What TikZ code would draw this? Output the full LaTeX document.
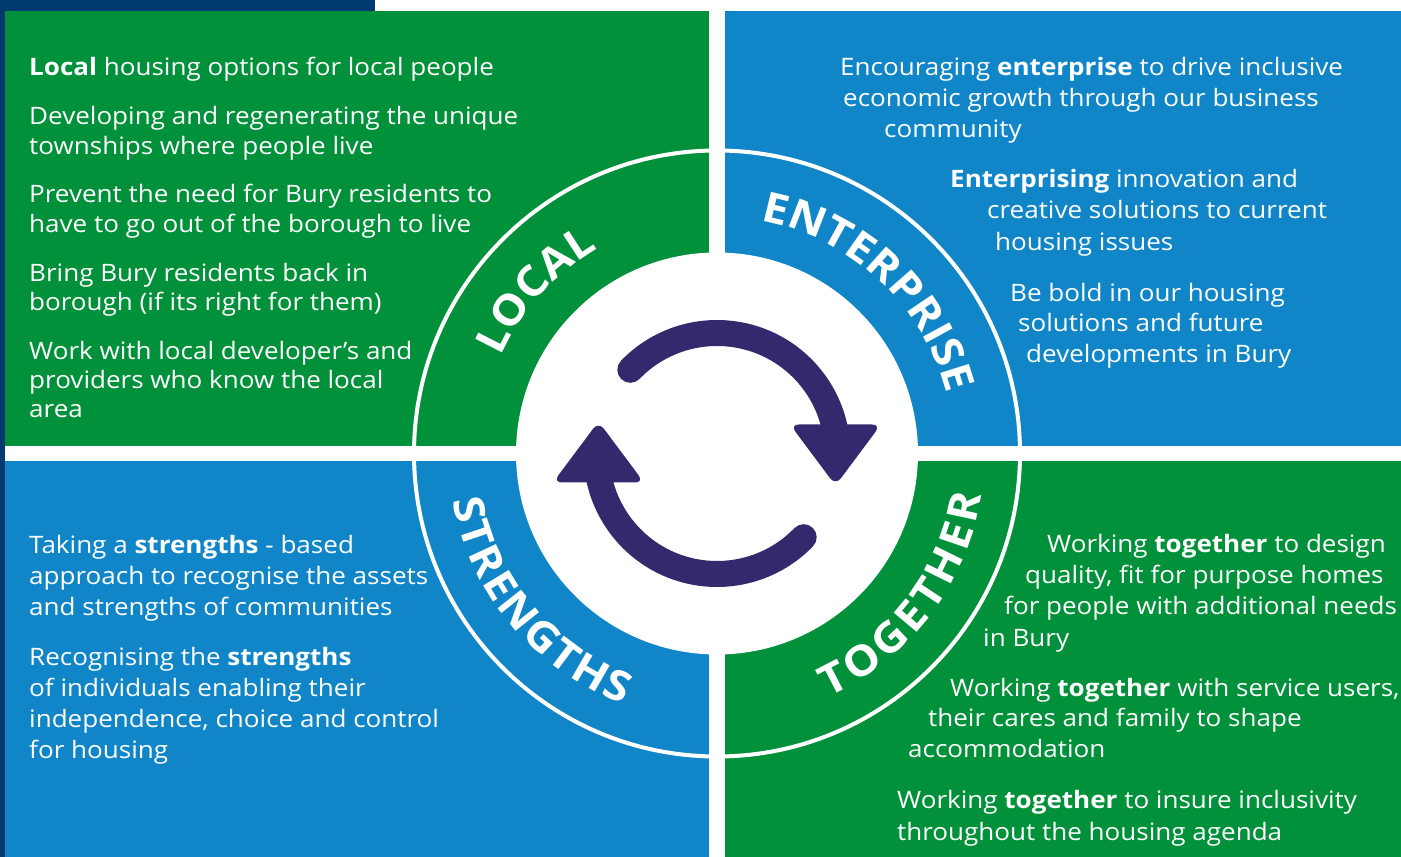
\documentclass[tikz,border=0pt]{standalone}
\usepackage{fontspec}
\setmainfont{Open Sans}[FakeStretch=1.085]
\usetikzlibrary{decorations.text}
\definecolor{localgreen}{HTML}{00913A}
\definecolor{enterblue}{HTML}{1086C8}
\definecolor{edgenavy}{HTML}{003A70}
\definecolor{cyclepurple}{HTML}{35296E}
\newcommand{\ringfont}{\fontsize{42}{42}\selectfont\bfseries}
\tikzstyle{greenpanel} = [fill=localgreen]
\tikzstyle{bluepanel} = [fill=enterblue]
\tikzstyle{bodytext} = [anchor=base west, inner sep=0pt, text=white, font=\fontsize{24}{29}\selectfont]
\tikzstyle{cycleline} = [draw=cyclepurple, line width=26pt, line cap=round]
\tikzstyle{cyclehead} = [fill=cyclepurple, rounded corners=9pt]
\tikzstyle{ringword} = [decorate, decoration={text along path, text color=white, text align={fit to path}}]

\begin{document}
\begin{tikzpicture}[x=1pt, y=1pt]
    \useasboundingbox (0,0) rectangle (1401,857);
    \fill[white] (0,0) rectangle (1401,857);
    \fill[edgenavy] (0,846) rectangle (375,857);
    \fill[edgenavy] (0,0) rectangle (5,857);

    % four panels
    \fill[greenpanel] (5,411) rectangle (709,846);
    \fill[bluepanel] (725,411) rectangle (1401,846);
    \fill[bluepanel] (5,0) rectangle (709,396);
    \fill[greenpanel] (725,0) rectangle (1401,396);

    % ring and centre
    \coordinate (c) at (717,403.5);
    \draw[white, line width=4pt] (c) circle[radius=303];
    \fill[white] (c) circle[radius=201];

    \begin{scope}[shift={(c)}]
        \path[ringword, decoration={text={|\ringfont|LOCAL}}] (156:237) arc[start angle=156, end angle=120, radius=237];
        \path[ringword, decoration={text={|\ringfont|ENTERPRISE}}] (79.5:237) arc[start angle=79.5, end angle=17, radius=237];
        \path[ringword, decoration={text={|\ringfont|STRENGTHS}}] (190:268) arc[start angle=190, end angle=249.5, radius=268];
        \path[ringword, decoration={text={|\ringfont|TOGETHER}}] (-65.5:268) arc[start angle=-65.5, end angle=-9, radius=268];

        % cycle arrows
        \draw[cycleline] (136:120.5) arc[start angle=136, end angle=10, radius=120.5];
        \fill[cyclehead] (73,29) -- (164,29) -- (118.5,-32) -- cycle;
        \draw[cycleline] (-44:120.5) arc[start angle=-44, end angle=-170, radius=120.5];
        \fill[cyclehead] (-73,-29) -- (-164,-29) -- (-118.5,32) -- cycle;
    \end{scope}

    % local
    \node (loc1) [bodytext] at (29,781) {\textbf{Local} housing options for local people};
    \node (loc2) [bodytext] at (29,732) {Developing and regenerating the unique};
    \node (loc3) [bodytext] at (29,702) {townships where people live};
    \node (loc4) [bodytext] at (29,654) {Prevent the need for Bury residents to};
    \node (loc5) [bodytext] at (29,624) {have to go out of the borough to live};
    \node (loc6) [bodytext] at (29,575) {Bring Bury residents back in};
    \node (loc7) [bodytext] at (29,546) {borough (if its right for them)};
    \node (loc8) [bodytext] at (29,497) {Work with local developer’s and};
    \node (loc9) [bodytext] at (29,468) {providers who know the local};
    \node (loc10) [bodytext] at (29,439) {area};

    % enterprise
    \node (ent1) [bodytext] at (840,781) {Encouraging \textbf{enterprise} to drive inclusive};
    \node (ent2) [bodytext] at (843,750) {economic growth through our business};
    \node (ent3) [bodytext] at (884,719) {community};
    \node (ent4) [bodytext] at (950,669) {\textbf{Enterprising} innovation and};
    \node (ent5) [bodytext] at (987,638) {creative solutions to current};
    \node (ent6) [bodytext] at (995,606) {housing issues};
    \node (ent7) [bodytext] at (1010,555) {Be bold in our housing};
    \node (ent8) [bodytext] at (1018,525) {solutions and future};
    \node (ent9) [bodytext] at (1026,494) {developments in Bury};

    % strengths
    \node (str1) [bodytext] at (29,303) {Taking a \textbf{strengths} - based};
    \node (str2) [bodytext] at (29,272) {approach to recognise the assets};
    \node (str3) [bodytext] at (29,241) {and strengths of communities};
    \node (str4) [bodytext] at (29,191) {Recognising the \textbf{strengths}};
    \node (str5) [bodytext] at (29,160) {of individuals enabling their};
    \node (str6) [bodytext] at (29,129) {independence, choice and control};
    \node (str7) [bodytext] at (29,98) {for housing};

    % together
    \node (tog1) [bodytext] at (1047,304) {Working \textbf{together} to design};
    \node (tog2) [bodytext] at (1025,273) {quality, fit for purpose homes};
    \node (tog3) [bodytext] at (1004,242) {for people with additional needs};
    \node (tog4) [bodytext] at (983,210) {in Bury};
    \node (tog5) [bodytext] at (950,160) {Working \textbf{together} with service users,};
    \node (tog6) [bodytext] at (928,130) {their cares and family to shape};
    \node (tog7) [bodytext] at (908,99) {accommodation};
    \node (tog8) [bodytext] at (897,48) {Working \textbf{together} to insure inclusivity};
    \node (tog9) [bodytext] at (897,16) {throughout the housing agenda};
\end{tikzpicture}
\end{document}
